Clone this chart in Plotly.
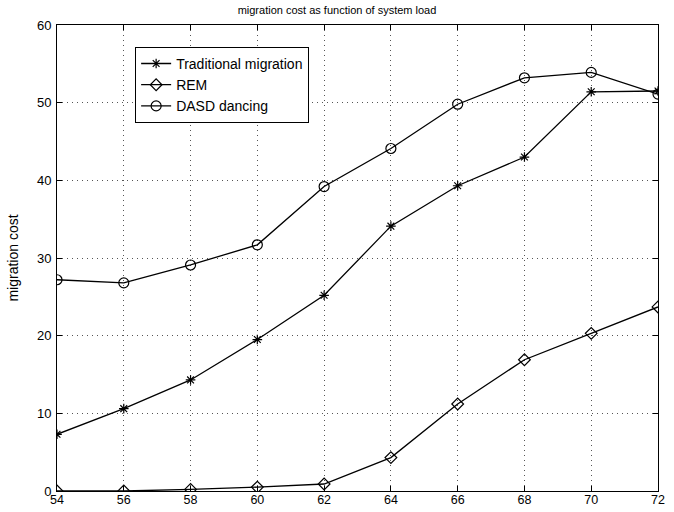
import plotly.graph_objects as go

loads = [54, 56, 58, 60, 62, 64, 66, 68, 70, 72]
traditional = [7.3, 10.6, 14.3, 19.5, 25.2, 34.1, 39.3, 43.0, 51.4, 51.5]
rem = [0.0, 0.0, 0.2, 0.5, 0.9, 4.3, 11.2, 16.9, 20.3, 23.7]
dasd = [27.2, 26.8, 29.1, 31.7, 39.2, 44.1, 49.8, 53.2, 53.9, 51.1]

x_ticks = [54, 56, 58, 60, 62, 64, 66, 68, 70, 72]
y_ticks = [0, 10, 20, 30, 40, 50, 60]

fig = go.Figure()
series = [
    ("Traditional migration", traditional, "asterisk-open", 8),
    ("REM", rem, "diamond-open", 9),
    ("DASD dancing", dasd, "circle-open", 10),
]
for name, ys, sym, sz in series:
    fig.add_trace(go.Scatter(
        x=loads, y=ys, name=name, mode="lines+markers",
        line=dict(color="black", width=1.3),
        marker=dict(symbol=sym, size=sz, color="black",
                    line=dict(color="black", width=1.2)),
    ))

axis_common = dict(
    showline=True, linecolor="black", linewidth=1, mirror="ticks",
    ticks="inside", ticklen=5, tickcolor="black",
    showgrid=True, gridcolor="#555555", griddash="1px,4px", gridwidth=1,
    zeroline=False,
    automargin=False,
)
fig.update_xaxes(range=[54, 72], tickvals=x_ticks, ticklabelstandoff=-3,
                 tickfont=dict(size=12.5, color="black"), **axis_common)
fig.update_yaxes(range=[0, 60], tickvals=y_ticks, ticklabelstandoff=2,
                 tickfont=dict(size=13, color="black"),
                 title=dict(text="migration cost", font=dict(size=14, color="black")),
                 **axis_common)

fig.update_layout(
    width=674, height=512,
    margin=dict(l=57, r=16, t=25, b=21),
    paper_bgcolor="white", plot_bgcolor="white",
    font=dict(family="Liberation Sans, Arial, sans-serif", color="black", size=13),
    title=dict(text="migration cost as function of system load", x=0.5, xanchor="center",
               y=0.988, yanchor="top", font=dict(size=11)),
    legend=dict(x=0.13, y=0.953, xanchor="left", yanchor="top",
                bgcolor="white", bordercolor="black", borderwidth=1,
                font=dict(size=14), tracegroupgap=0, itemwidth=30),
    showlegend=True,
)

fig.write_html("out.html")
